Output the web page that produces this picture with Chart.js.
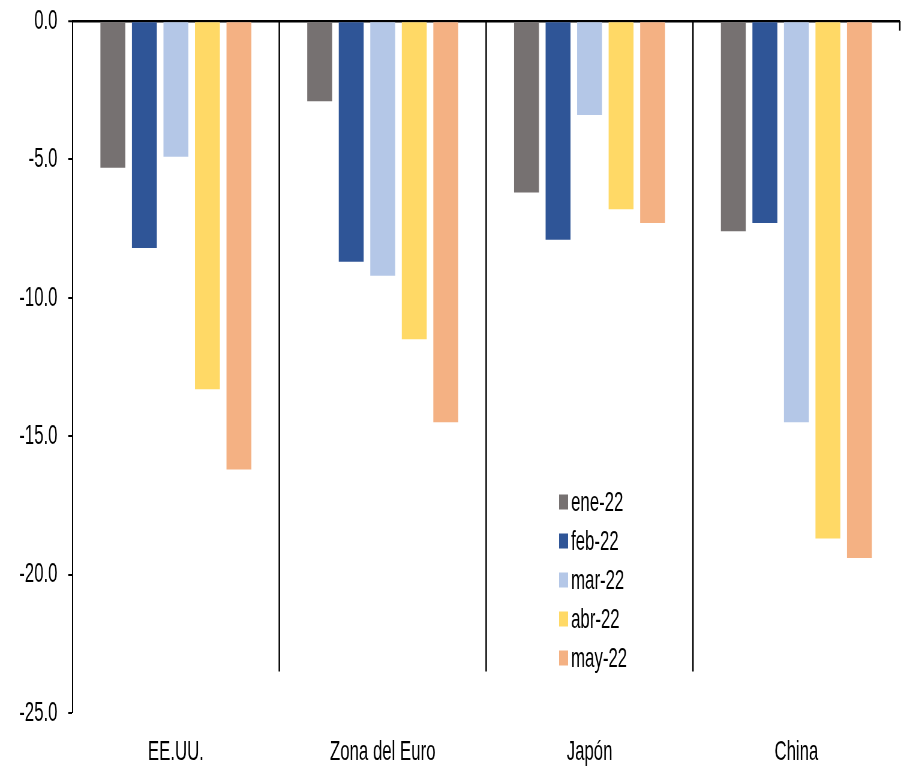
<!DOCTYPE html>
<html lang="es">
<head>
<meta charset="utf-8">
<title>Variación por región</title>
<script src="https://cdn.jsdelivr.net/npm/chart.js@4/dist/chart.umd.min.js"></script>
<style>
  html, body { margin: 0; padding: 0; background: #fff; }
  #wrap { width: 904px; height: 769px; overflow: hidden; }
</style>
</head>
<body>
<div id="wrap">
  <!-- The drawing surface is wider than its display box, giving the condensed look of the labels. -->
  <canvas id="grafico" width="1507" height="769" style="width:904px;height:769px;display:block"></canvas>
</div>
<script>
// Regiones y meses
const categorias = ['EE.UU.', 'Zona del Euro', 'Japón', 'China'];
const meses = ['ene-22', 'feb-22', 'mar-22', 'abr-22', 'may-22'];

// Valores por mes (mismo orden que las regiones)
const ene22 = [-5.3, -2.9, -6.2, -7.6];
const feb22 = [-8.2, -8.7, -7.9, -7.3];
const mar22 = [-4.9, -9.2, -3.4, -14.5];
const abr22 = [-13.3, -11.5, -6.8, -18.7];
const may22 = [-16.2, -14.5, -7.3, -19.4];

// Eje vertical
const ejeMin = -25;
const ejeMax = 0;
const ejePaso = 5;

const colores = ['#767171', '#2F5597', '#B4C7E7', '#FFD966', '#F4B183'];
const series = [ene22, feb22, mar22, abr22, may22];

const fuente = { family: "'Liberation Sans', Arial, sans-serif", size: 28 };

// Separadores verticales entre regiones, que bajan desde la línea del cero
const separadores = {
  id: 'separadores',
  afterDatasetsDraw(chart, args, opts) {
    const x = chart.scales.x, y = chart.scales.y;
    const ctx = chart.ctx;
    const y0 = y.getPixelForValue(0);
    ctx.save();
    ctx.strokeStyle = '#000';
    ctx.lineWidth = 2.5;
    for (let i = 1; i < categorias.length; i++) {
      const xp = (x.getPixelForValue(i - 1) + x.getPixelForValue(i)) / 2;
      ctx.beginPath();
      ctx.moveTo(xp, y0);
      ctx.lineTo(xp, y.getPixelForValue(opts.hasta));
      ctx.stroke();
    }
    // remate corto en el extremo derecho
    const xr = chart.chartArea.right;
    ctx.beginPath();
    ctx.moveTo(xr, y0);
    ctx.lineTo(xr, y.getPixelForValue(opts.remate));
    ctx.stroke();
    ctx.restore();
  }
};

// Leyenda vertical dentro del área de trazado
const leyenda = {
  id: 'leyendaInterna',
  afterDraw(chart, args, opts) {
    const ctx = chart.ctx;
    ctx.save();
    ctx.font = `${fuente.size}px ${fuente.family}`;
    ctx.textBaseline = 'middle';
    ctx.textAlign = 'left';
    chart.data.datasets.forEach((ds, i) => {
      const cy = opts.top + i * opts.paso;
      ctx.fillStyle = ds.backgroundColor;
      ctx.fillRect(opts.left, cy - opts.caja / 2, opts.caja, opts.caja);
      ctx.fillStyle = '#000';
      ctx.fillText(ds.label, opts.left + opts.caja + opts.hueco, cy + 1);
    });
    ctx.restore();
  }
};

new Chart(document.getElementById('grafico'), {
  type: 'bar',
  data: {
    labels: categorias,
    datasets: meses.map((m, i) => ({
      label: m,
      data: series[i],
      backgroundColor: colores[i],
      borderWidth: 0,
      barPercentage: 0.79,
      categoryPercentage: 0.762
    }))
  },
  plugins: [separadores, leyenda],
  options: {
    responsive: false,
    devicePixelRatio: 1,
    animation: false,
    layout: { padding: { left: 14, right: 7, top: 21, bottom: 0 } },
    plugins: {
      legend: { display: false },
      tooltip: { enabled: false },
      separadores: { hasta: -23.5, remate: -0.35 },
      leyendaInterna: { left: 932, top: 502, paso: 39, caja: 15, hueco: 5 }
    },
    scales: {
      x: {
        type: 'category',
        grid: { display: false, drawTicks: false },
        border: { display: false },
        // category labels take one line of text plus their padding
        afterFit(scale) {
          scale.height = 56;
          scale.paddingBottom = 0;
        },
        ticks: { color: '#000', font: fuente, padding: 22, maxRotation: 0 }
      },
      y: {
        min: ejeMin,
        max: ejeMax,
        // the end labels may overhang the plot area; no extra room is reserved for them
        afterFit(scale) {
          scale.paddingTop = 0;
          scale.paddingBottom = 0;
        },
        ticks: {
          stepSize: ejePaso,
          color: '#000',
          font: fuente,
          padding: 18,
          callback: v => Number(v).toFixed(1)
        },
        border: { display: true, color: '#000', width: 2 },
        grid: {
          drawOnChartArea: true,
          drawTicks: true,
          tickLength: 7,
          tickColor: '#000',
          tickWidth: 2,
          color: c => (c.tick && c.tick.value === 0 ? '#000' : 'rgba(0,0,0,0)'),
          lineWidth: c => (c.tick && c.tick.value === 0 ? 2.5 : 0)
        }
      }
    }
  }
});
</script>
</body>
</html>
